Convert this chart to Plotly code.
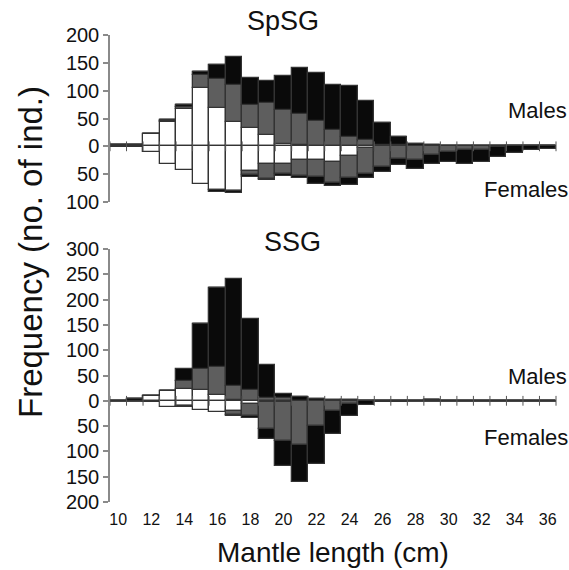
import plotly.graph_objects as go

# ---------------- data ----------------
bins = list(range(10, 37))  # mantle length classes (cm)

# SpSG (top panel)
spsg_m_white = [3, 3, 23, 43, 67, 104, 69, 44, 33, 20, 4, 2, 0, 0, 0, 0, 0, 0, 0, 0, 0, 0, 0, 0, 0, 0, 0]
spsg_m_grey  = [0, 0, 0, 2, 4, 24, 52, 66, 41, 57, 61, 56, 45, 29, 16, 12, 2, 2, 0, 0, 0, 0, 0, 0, 0, 0, 0]
spsg_m_black = [0, 0, 0, 3, 4, 5, 25, 51, 49, 41, 62, 83, 87, 82, 92, 70, 40, 15, 4, 2, 1, 1, 0, 0, 0, 0, 0]
spsg_f_white = [2, 2, 11, 31, 43, 68, 79, 80, 44, 31, 32, 25, 25, 29, 17, 3, 0, 0, 0, 0, 0, 0, 0, 0, 0, 0, 0]
spsg_f_grey  = [0, 0, 0, 0, 0, 0, 0, 1, 8, 27, 18, 29, 30, 37, 40, 46, 37, 23, 25, 16, 10, 7, 6, 2, 0, 0, 0]
spsg_f_black = [0, 0, 0, 0, 0, 0, 3, 2, 3, 3, 3, 2, 12, 5, 13, 8, 9, 10, 15, 15, 18, 24, 22, 17, 12, 7, 4]

# SSG (bottom panel)
ssg_m_white = [0, 0, 10, 19, 24, 22, 11, 2, 0, 0, 0, 0, 0, 0, 0, 0, 0, 0, 0, 0, 0, 0, 0, 0, 0, 0, 0]
ssg_m_grey  = [0, 0, 0, 0, 16, 40, 56, 27, 21, 6, 5, 0, 0, 0, 0, 0, 0, 0, 0, 0, 0, 0, 0, 0, 0, 0, 0]
ssg_m_black = [0, 3, 0, 0, 22, 90, 155, 211, 140, 64, 9, 8, 4, 2, 1, 0, 0, 0, 0, 2, 0, 0, 0, 0, 0, 0, 0]
ssg_f_white = [0, 0, 3, 13, 10, 19, 22, 20, 6, 2, 3, 0, 0, 0, 0, 0, 0, 0, 0, 0, 0, 0, 0, 0, 0, 0, 0]
ssg_f_grey  = [0, 0, 0, 0, 1, 0, 0, 8, 25, 54, 76, 88, 50, 20, 7, 0, 0, 0, 0, 0, 0, 0, 0, 0, 0, 0, 0]
ssg_f_black = [0, 0, 0, 0, 2, 0, 0, 3, 2, 19, 49, 72, 74, 45, 23, 8, 3, 3, 0, 0, 0, 0, 0, 0, 0, 0, 0]

top_ticks = [200, 150, 100, 50, 0, -50, -100]
bot_ticks = [300, 250, 200, 150, 100, 50, 0, -50, -100, -150, -200]
x_ticks = list(range(10, 37, 2))

# ---------------- style ----------------
FONT = "Liberation Sans"
WHITE, GREY, BLACK = "#ffffff", "#5e5e5e", "#0a0a0a"
EDGE = "#333333"
W, H = 569, 570
ML, MR, MT, MB = 110, 13, 35, 68
PW, PH = W - ML - MR, H - MT - MB


def px(x):  # picture pixel -> paper
    return (x - ML) / PW


def py(y):
    return (H - MB - y) / PH


fig = go.Figure()


def add_stack(vals, color, xa, ya, sign):
    fig.add_trace(go.Bar(
        x=bins, y=[sign * v for v in vals], width=1.0,
        marker=dict(color=color, line=dict(color=EDGE, width=1.3)),
        xaxis=xa, yaxis=ya, showlegend=False, hoverinfo="skip"))


for vals, col in [(spsg_m_white, WHITE), (spsg_m_grey, GREY), (spsg_m_black, BLACK)]:
    add_stack(vals, col, "x", "y", 1)
for vals, col in [(spsg_f_white, WHITE), (spsg_f_grey, GREY), (spsg_f_black, BLACK)]:
    add_stack(vals, col, "x", "y", -1)
for vals, col in [(ssg_m_white, WHITE), (ssg_m_grey, GREY), (ssg_m_black, BLACK)]:
    add_stack(vals, col, "x2", "y2", 1)
for vals, col in [(ssg_f_white, WHITE), (ssg_f_grey, GREY), (ssg_f_black, BLACK)]:
    add_stack(vals, col, "x2", "y2", -1)

# small class-boundary ticks along the zero line
edges = [b - 0.5 for b in bins] + [bins[-1] + 0.5]
for xa, ya in [("x", "y"), ("x2", "y2")]:
    fig.add_trace(go.Scatter(
        x=edges, y=[0] * len(edges), mode="markers", xaxis=xa, yaxis=ya,
        marker=dict(symbol="line-ns", size=7, line=dict(color="#555555", width=1)),
        showlegend=False, hoverinfo="skip", cliponaxis=False))

top_dom = [py(202), 1.0]
bot_dom = [0.0, py(249)]

yax_common = dict(showgrid=False, showline=True, linecolor="#8a8a8a", linewidth=1.5,
                  ticks="outside", ticklen=5, tickcolor="#8a8a8a", tickwidth=1.5,
                  zeroline=True, zerolinecolor="#444444", zerolinewidth=1.5,
                  tickfont=dict(family=FONT, size=20, color="#111111"))
xax_common = dict(range=[9.5, 36.5], showgrid=False, showline=False, zeroline=False,
                  ticks="")

fig.update_layout(
    width=W, height=H, barmode="relative", bargap=0,
    plot_bgcolor="white", paper_bgcolor="white",
    margin=dict(l=ML, r=MR, t=MT, b=MB),
    xaxis=dict(domain=[0, 1], anchor="y", showticklabels=False, **xax_common),
    yaxis=dict(domain=top_dom, range=[-100, 200], anchor="x",
               tickvals=top_ticks, ticktext=[str(abs(v)) for v in top_ticks], **yax_common),
    xaxis2=dict(domain=[0, 1], anchor="y2", tickvals=x_ticks, ticklabelstandoff=6,
                tickfont=dict(family=FONT, size=16, color="#111111"), **xax_common),
    yaxis2=dict(domain=bot_dom, range=[-200, 300], anchor="x2",
                tickvals=bot_ticks, ticktext=[str(abs(v)) for v in bot_ticks], **yax_common),
)

ann = [
    ("SpSG", 283, 21, "center", 27),
    ("SSG", 292, 242, "center", 27),
    ("Males", 537, 110, "center", 22),
    ("Females", 526, 190, "center", 22),
    ("Males", 537, 376, "center", 22),
    ("Females", 526, 437, "center", 22),
    ("Mantle length (cm)", 333, 552, "center", 28),
]
for text, x, y, xa, size in ann:
    fig.add_annotation(text=text, x=px(x), y=py(y), xref="paper", yref="paper",
                       xanchor=xa, yanchor="middle", showarrow=False,
                       font=dict(family=FONT, size=size, color="#111111"))
fig.add_annotation(text="Frequency (no. of ind.)", x=px(31), y=py(252), xref="paper", yref="paper",
                   xanchor="center", yanchor="middle", showarrow=False, textangle=-90,
                   font=dict(family=FONT, size=33, color="#111111"))

fig.write_html("out.html", config={"displayModeBar": False},
               post_script="document.body.style.margin='0';document.body.style.overflow='hidden';")
